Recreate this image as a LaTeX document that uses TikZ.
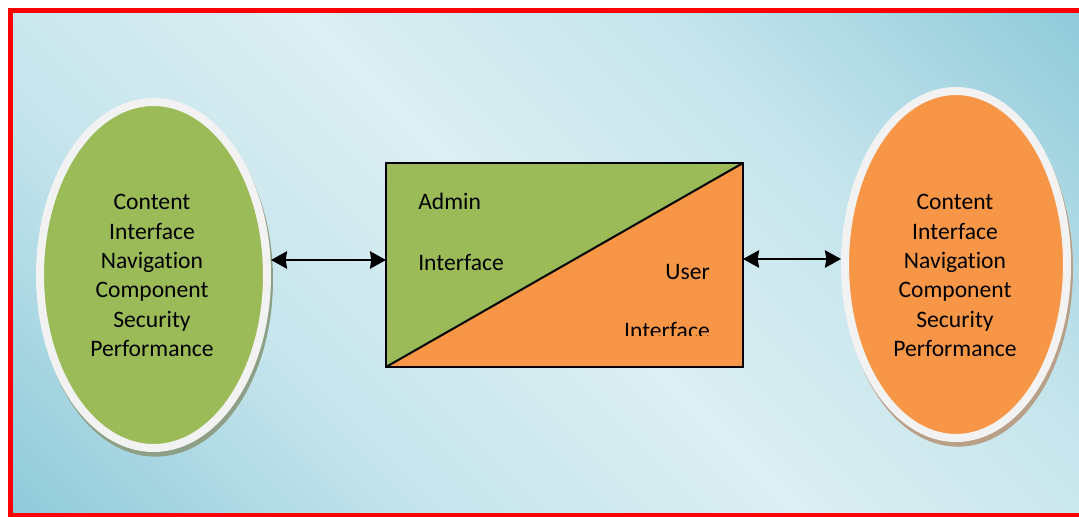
\documentclass[tikz,border=0pt]{standalone}
\usepackage{fontspec}
\setmainfont{Carlito}[Ligatures={NoCommon,NoContextual}]
\usetikzlibrary{arrows.meta,shapes.geometric,shadows}

\definecolor{framered}{HTML}{FF0000}
\definecolor{bgdark}{HTML}{90CBDA}
\definecolor{bgmid}{HTML}{C4E4EC}
\definecolor{bglight}{HTML}{DDEFF3}
\definecolor{leafgreen}{HTML}{9BBB59}
\definecolor{warmorange}{HTML}{F79646}
\definecolor{ringgray}{HTML}{F2F2F2}
\definecolor{greenshadow}{HTML}{8DA086}
\definecolor{orangeshadow}{HTML}{B89F87}

% diagonal sky-blue backdrop: dark corners, light band through the middle
\pgfdeclarehorizontalshading{skyband}{100bp}{%
  color(0bp)=(bgdark); color(15bp)=(bgdark); color(33bp)=(bgmid);
  color(50bp)=(bglight); color(67bp)=(bgmid); color(85bp)=(bgdark);
  color(100bp)=(bgdark)}

\tikzset{
  label text/.style={font=\fontsize{17.7}{22}\selectfont, text=black, inner sep=0pt},
  topic oval/.style={ellipse, draw=ringgray, line width=6pt, inner sep=0pt},
  oval shadow/.style={drop shadow={shadow xshift=1.5pt, shadow yshift=-3.5pt,
      opacity=1, fill=#1, draw=#1, line width=6pt}},
  edge line/.style={line width=1.5pt, draw=black},
  link/.style={line width=1.8pt,
      {Stealth[length=12pt,width=13pt,inset=1pt]}-{Stealth[length=12pt,width=13pt,inset=1pt]}},
}

\begin{document}
\begin{tikzpicture}[x=0.75pt, y=-0.75pt]
  \useasboundingbox (0,0) rectangle (1079,517);
  \clip (0,0) rectangle (1079,517);
  \fill[white] (0,0) rectangle (1079,517);

  % backdrop and red frame
  \shade[shading=skyband, shading angle=45] (10.5,10.5) rectangle (1085,515.5);
  \draw[framered, line width=3.75pt] (10.5,10.5) rectangle (1085,515.5);

  % the two ovals
  \node[topic oval, fill=leafgreen, oval shadow=greenshadow,
        minimum width=227*0.75pt, minimum height=346*0.75pt] (leftoval) at (153.5,275) {};
  \node[topic oval, fill=warmorange, oval shadow=orangeshadow,
        minimum width=222*0.75pt, minimum height=347*0.75pt] (rightoval) at (956,264.5) {};

  \node[label text, align=center] (lefttext) at (152,275.7)
    {Content\\Interface\\Navigation\\Component\\Security\\Performance};
  \node[label text, align=center] (righttext) at (955,275.7)
    {Content\\Interface\\Navigation\\Component\\Security\\Performance};

  % split box in the middle
  \node[minimum width=357*0.75pt, minimum height=204*0.75pt,
        inner sep=0pt, outer sep=0pt] (split) at (564.5,265) {};
  \fill[leafgreen] (split.south west) -- (split.north west) -- (split.north east) -- cycle;
  \fill[warmorange] (split.south west) -- (split.south east) -- (split.north east) -- cycle;
  \draw[edge line] (split.south west) -- (split.north east);
  \draw[edge line] (split.south west) rectangle (split.north east);

  \node[label text, anchor=base west] (admintop) at (418,209.5) {Admin};
  \node[label text, anchor=base west] (adminlow) at (418,270) {Interface};
  \node[label text, anchor=base east] (usertop) at (710,279) {User};
  \begin{scope}
    \clip (600,300) rectangle (740,335.5);
    \node[label text, anchor=base east] (userlow) at (710,338.5) {Interface};
  \end{scope}

  % connectors
  \coordinate (leftlevel) at (0,260);
  \coordinate (rightlevel) at (0,259);
  \draw[link] (leftoval.east |- leftlevel) -- (split.west |- leftlevel);
  \draw[link] (split.east |- rightlevel) -- (rightoval.west |- rightlevel);
\end{tikzpicture}
\end{document}
